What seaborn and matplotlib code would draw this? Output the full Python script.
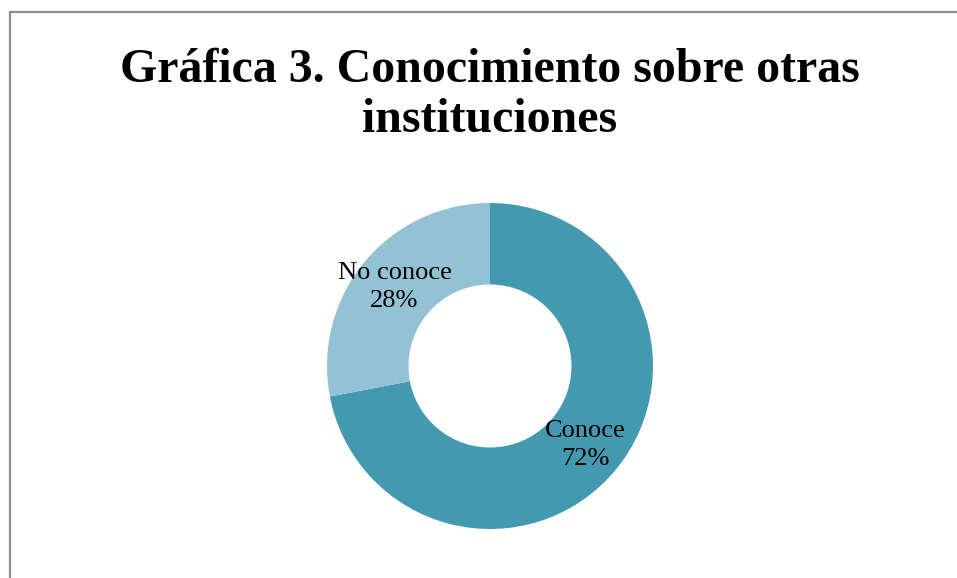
import matplotlib
matplotlib.use('Agg')
import matplotlib.pyplot as plt
import seaborn as sns
from matplotlib.patches import Rectangle

# Data
categories = ['Conoce', 'No conoce']
values = [72, 28]
colors = ['#4399B0', '#93C2D4']
title = 'Gráfica 3. Conocimiento sobre otras\ninstituciones'

sns.set_theme(style='white')
plt.rcParams['font.family'] = ['Liberation Serif', 'DejaVu Serif']

fig = plt.figure(figsize=(9.57, 5.78), dpi=100)

# gray frame around the chart area (cropped on right/bottom)
fig.patches.append(Rectangle((9.5 / 957, -0.05), 1.1, 1 - 11.5 / 578 + 0.05,
                             transform=fig.transFigure, fill=False,
                             edgecolor='#8c8c8c', linewidth=1.6))

fig.text(490 / 957, 1 - 95 / 578, title, ha='center', va='center',
         fontsize=34.5, fontweight='bold', linespacing=1.18, color='black')

ax = fig.add_axes([327 / 957, 49 / 578, 326 / 957, 326 / 578])
wedges, texts, autotexts = ax.pie(values, colors=sns.color_palette(colors),
                                  startangle=90, counterclock=False,
                                  radius=1, autopct='%d%%', pctdistance=0.76,
                                  wedgeprops=dict(width=0.5, edgecolor='none'))
for t, name, v in zip(autotexts, categories, values):
    t.set_text(f'{name}\n{v}%')
    t.set_fontsize(19)
    t.set_color('black')
    t.set_linespacing(1.4)
ax.set_xlim(-1, 1)
ax.set_ylim(-1, 1)
ax.set_aspect('equal')
ax.axis('off')

fig.savefig('out.png', dpi=100, facecolor='white')
